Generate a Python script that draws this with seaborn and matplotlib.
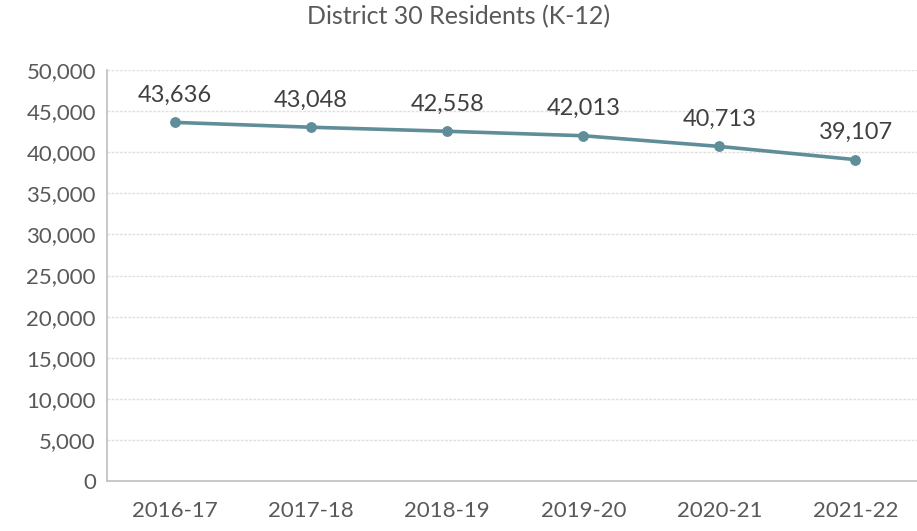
import matplotlib
matplotlib.use('Agg')
import matplotlib.pyplot as plt
import seaborn as sns
import pandas as pd

# data
years = ['2016-17', '2017-18', '2018-19', '2019-20', '2020-21', '2021-22']
residents = [43636, 43048, 42558, 42013, 40713, 39107]

df = pd.DataFrame({'Year': years, 'Residents': residents})

sns.set_style('white')
plt.rcParams['font.family'] = ['Lato', 'DejaVu Sans']

fig = plt.figure(figsize=(9.17, 5.31), dpi=100)
ax = fig.add_axes([0.1167, 0.094, 0.883, 0.774])

line_color = '#5f8e99'
sns.lineplot(data=df, x='Year', y='Residents', ax=ax, color=line_color,
             linewidth=2.6, marker='o', markersize=7, markeredgecolor=line_color,
             sort=False)

for i, v in enumerate(residents):
    ax.annotate(f'{v:,}', (i, v), xytext=(0, 12), textcoords='offset points',
                ha='center', va='bottom', fontsize=17, color='#404040')

ax.set_ylim(0, 50000)
ax.set_xlim(-0.5, 5.45)
ax.set_yticks(range(0, 50001, 5000))
ax.set_yticklabels([f'{t:,}' for t in range(0, 50001, 5000)])
ax.yaxis.grid(True, color='#e0e0e0', linewidth=1, linestyle=(0, (2, 1)))
ax.xaxis.grid(False)
ax.set_xlabel('')
ax.set_ylabel('')
ax.tick_params(axis='y', labelsize=16, labelcolor='#595959', length=0, pad=8)
ax.tick_params(axis='x', labelsize=16, labelcolor='#595959', length=0, pad=14)

for side in ['top', 'right']:
    ax.spines[side].set_visible(False)
for side in ['left', 'bottom']:
    ax.spines[side].set_color('#bfbfbf')
    ax.spines[side].set_linewidth(1.2)

fig.suptitle('District 30 Residents (K-12)', fontsize=18, color='#595959', y=0.99)

fig.savefig('out.png', dpi=100)
